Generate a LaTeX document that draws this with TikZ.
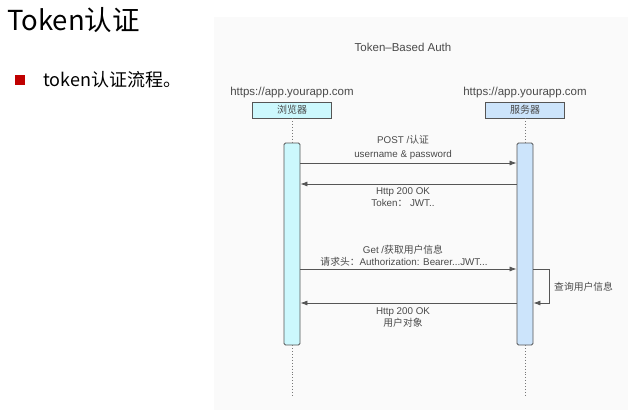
\documentclass[tikz,border=0pt]{standalone}
\usepackage{fontspec}
\setmainfont{Liberation Sans}
\newfontfamily\cjk{Noto Sans CJK SC}
\usetikzlibrary{arrows.meta, positioning}
\definecolor{panelbg}{HTML}{FAFAFA}
\definecolor{txtgray}{HTML}{4A4A4A}
\definecolor{linegray}{HTML}{555555}
\definecolor{clientfill}{HTML}{CCF8FD}
\definecolor{serverfill}{HTML}{CCE4FB}
\definecolor{bulletred}{HTML}{C00000}

\begin{document}
\begin{tikzpicture}[x=1pt, y=-1pt,
  actor/.style={draw=linegray, line width=0.8pt, minimum width=79pt, minimum height=16pt, inner sep=0pt, font=\cjk\fontsize{10}{10}\selectfont, text=txtgray},
  bar/.style={draw=linegray, line width=0.8pt, rounded corners=1.5pt, minimum width=16pt, minimum height=202pt, inner sep=0pt},
  lifeline/.style={draw=linegray!80, dotted, line width=0.9pt},
  msg/.style={draw=linegray, line width=0.75pt, -{Latex[length=7pt,width=5pt]}},
  lbl/.style={font=\fontsize{9.8}{10}\selectfont, text=txtgray, inner sep=0pt},
  url/.style={font=\fontsize{11.5}{12}\selectfont, text=txtgray, inner sep=0pt}
]
\useasboundingbox (0,0) rectangle (628,418);

% slide heading and bullet
\node[anchor=west, inner sep=0pt, font=\cjk\fontsize{27.5}{29}\selectfont] (title) at (7,20) {Token认证};
\node[fill=bulletred, minimum size=10pt, inner sep=0pt] (bullet) at (19.5,79.5) {};
\node[anchor=west, inner sep=0pt, font=\cjk\fontsize{18}{20}\selectfont] (btext) at (43,80) {token认证流程。};

% diagram panel
\fill[panelbg] (214,17) rectangle (628,410);
\node[url] (ptitle) at (403,47) {Token--Based Auth};

% participants
\node[url] (curl) at (292,93) {https://app.yourapp.com};
\node[url] (surl) at (525,93) {https://app.yourapp.com};
\node[actor, fill=clientfill] (client) at (292,110) {浏览器};
\node[actor, fill=serverfill] (server) at (525,110) {服务器};
\node[bar, fill=clientfill] (cbar) at (292,244) {};
\node[bar, fill=serverfill] (sbar) at (525,244) {};
\coordinate (cend) at (292,397);
\coordinate (send) at (525,397);
\draw[lifeline] (client.south) -- (cbar.north);
\draw[lifeline] (server.south) -- (sbar.north);
\draw[lifeline] (cbar.south) -- (cend);
\draw[lifeline] (sbar.south) -- (send);

% message levels
\coordinate (m1) at (0,163);
\coordinate (m2) at (0,184);
\coordinate (m3) at (0,269);
\coordinate (m4) at (0,303);

\draw[msg] (cbar.east |- m1) -- (sbar.west |- m1);
\node[lbl] (l1a) at (403,139.5) {POST /{\cjk 认证}};
\node[lbl] (l1b) at (403,154.5) {username \& password};

\draw[msg] (sbar.west |- m2) -- (cbar.east |- m2);
\node[lbl] (l2a) at (403,192) {Http 200 OK};
\node[lbl] (l2b) at (403,203) {Token{\cjk ：} JWT..};

\draw[msg] (cbar.east |- m3) -- (sbar.west |- m3);
\node[lbl] (l3a) at (403,250) {Get /{\cjk 获取用户信息}};
\node[lbl] (l3b) at (404,262) {{\cjk 请求头：}Authorization: Bearer...JWT...};

\draw[msg] (sbar.east |- m3) -- ++(16,0) |- (sbar.east |- m4);
\node[lbl, anchor=west, font=\cjk\fontsize{9.8}{10}\selectfont] (qlbl) at (554,287) {查询用户信息};

\draw[msg] (sbar.west |- m4) -- (cbar.east |- m4);
\node[lbl] (l4a) at (403,312) {Http 200 OK};
\node[lbl, font=\cjk\fontsize{9.8}{10}\selectfont] (l4b) at (403,323) {用户对象};
\end{tikzpicture}
\end{document}
